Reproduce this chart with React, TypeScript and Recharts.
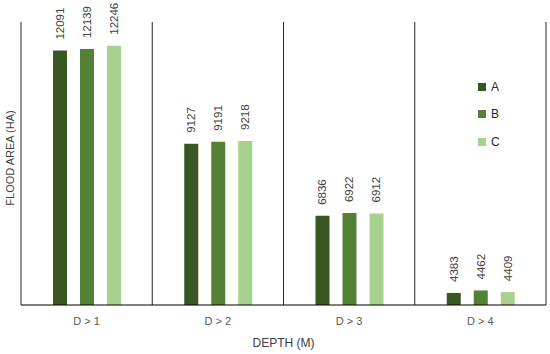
import React from 'react';
import { BarChart, Bar, XAxis, YAxis, CartesianGrid, LabelList } from 'recharts';

document.body.style.margin = '0';

const categories = ['D > 1', 'D > 2', 'D > 3', 'D > 4'];
const seriesA = [12091, 9127, 6836, 4383];
const seriesB = [12139, 9191, 6922, 4462];
const seriesC = [12246, 9218, 6912, 4409];

const seriesNames = ['A', 'B', 'C'];
const colors = ['#385723', '#548235', '#a9d18e'];
const FONT = '"Liberation Sans", Arial, sans-serif';

const data = categories.map((name, i) => ({
  name,
  A: seriesA[i],
  B: seriesB[i],
  C: seriesC[i],
}));

const VerticalLabel = (props: any) => {
  const { x, y, width, value } = props;
  const cx = x + width / 2;
  const cy = y - 11;
  return (
    <text
      x={cx}
      y={cy}
      transform={`rotate(-90, ${cx}, ${cy})`}
      textAnchor="start"
      dominantBaseline="central"
      fontSize={11.5}
      fontFamily={FONT}
      fill="#404040"
    >
      {value}
    </text>
  );
};

const YTitle = () => {
  const cx = 10;
  const cy = 158;
  return (
    <text
      x={cx}
      y={cy}
      transform={`rotate(-90, ${cx}, ${cy})`}
      textAnchor="middle"
      dominantBaseline="central"
      fontSize={11}
      fontFamily={FONT}
      fill="#404040"
    >
      FLOOD AREA (HA)
    </text>
  );
};

const LegendBox = () => (
  <div
    style={{
      position: 'absolute',
      left: 478,
      top: 73,
      fontFamily: FONT,
      fontSize: 12,
      color: '#262626',
    }}
  >
    {seriesNames.map((s, i) => (
      <div key={s} style={{ display: 'flex', alignItems: 'center', height: 27.5 }}>
        <span style={{ display: 'inline-block', width: 8, height: 8, background: colors[i], marginRight: 5 }} />
        <span>{s}</span>
      </div>
    ))}
  </div>
);

export default function App() {
  return (
    <div style={{ position: 'relative', width: 550, height: 354 }}>
      <BarChart
        width={550}
        height={354}
        data={data}
        margin={{ top: 22, right: 4, left: 0, bottom: 0 }}
        barSize={14}
        barGap={13}
      >
        <CartesianGrid
          horizontal={false}
          stroke="#000"
          strokeOpacity={0.85}
          verticalCoordinatesGenerator={({ offset }: any) =>
            [0, 1, 2, 3, 4].map(i => offset.left + (i * offset.width) / 4)
          }
        />
        <XAxis
          dataKey="name"
          height={49}
          tickLine={false}
          tickSize={6}
          tickMargin={6}
          axisLine={{ stroke: '#000' }}
          tick={{ fontSize: 11, fontFamily: FONT, fill: '#595959' }}
          label={{
            value: 'DEPTH (M)',
            position: 'insideBottom',
            offset: 7,
            style: { fontSize: 12, fontFamily: FONT, fill: '#404040' },
          }}
        />
        <YAxis
          width={21}
          domain={[4000, 13000]}
          allowDataOverflow
          tick={false}
          tickLine={false}
          axisLine={false}
          label={<YTitle />}
        />
        {seriesNames.map((s, i) => (
          <Bar key={s} dataKey={s} fill={colors[i]} isAnimationActive={false}>
            <LabelList dataKey={s} content={<VerticalLabel />} />
          </Bar>
        ))}
      </BarChart>
      <LegendBox />
    </div>
  );
}
